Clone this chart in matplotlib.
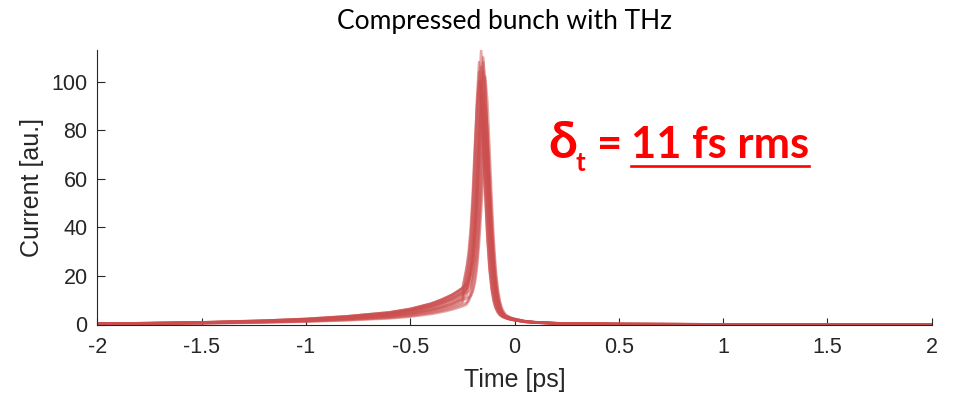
import matplotlib
matplotlib.use("Agg")
import matplotlib.pyplot as plt
from matplotlib.lines import Line2D

# ---------------- data ----------------
time_ps = [-2.0, -1.5, -1.2, -1.0, -0.8, -0.6, -0.5, -0.4, -0.35, -0.3, -0.27, -0.25,
           -0.23, -0.22, -0.21, -0.2, -0.19, -0.18, -0.17, -0.16, -0.15, -0.14, -0.13,
           -0.12, -0.11, -0.1, -0.09, -0.08, -0.07, -0.06, -0.05, -0.04, -0.02, 0.0,
           0.05, 0.1, 0.2, 0.3, 0.5, 1.0, 1.5, 2.0]

shot_01 = [0.3, 0.9, 1.6, 2.3, 3.4, 5.0, 6.4, 8.6, 10.2, 12.2, 13.8, 15.0,
           23.5, 30, 40, 55, 74, 90, 100, 90, 72, 52, 35,
           22.5, 14.5, 9.5, 6.6, 4.9, 3.8, 3.2, 2.8, 2.5, 2.0, 1.8,
           1.1, 0.78, 0.46, 0.3, 0.17, 0.07, 0.04, 0.02]
shot_02 = [0.27, 0.8, 1.45, 2.1, 3.1, 4.5, 5.8, 7.7, 9.2, 11.0, 12.4, 13.5,
           22.7, 28, 36.7, 50.8, 71.3, 92.9, 108, 97.2, 77.8, 56.2, 37.8,
           24.3, 15.7, 10.3, 7.1, 5.3, 4.1, 3.5, 3.0, 2.7, 2.2, 1.9,
           1.15, 0.8, 0.47, 0.3, 0.17, 0.07, 0.04, 0.02]
shot_03 = [0.22, 0.68, 1.2, 1.7, 2.55, 3.75, 4.8, 6.45, 7.65, 9.15, 10.35, 11.25,
           19.2, 23.7, 29.4, 38.4, 53.1, 74.6, 97.2, 113, 101.7, 81.4, 58.8,
           39.6, 25.4, 16.4, 10.7, 7.5, 5.5, 4.3, 3.6, 3.2, 2.6, 2.2,
           1.3, 0.9, 0.52, 0.34, 0.18, 0.08, 0.04, 0.02]
shot_04 = [0.18, 0.54, 0.96, 1.4, 2.05, 3.0, 3.85, 5.15, 6.1, 7.3, 8.3, 9.0,
           15.9, 19.6, 24.3, 34.2, 49.8, 70, 91.2, 106, 95.4, 76.3, 55.1,
           37.1, 23.9, 15.4, 10.1, 7.0, 5.2, 4.0, 3.4, 3.0, 2.4, 2.0,
           1.2, 0.8, 0.45, 0.3, 0.16, 0.07, 0.03, 0.02]
shot_05 = [0.29, 0.86, 1.52, 2.2, 3.2, 4.75, 6.1, 8.2, 9.7, 11.6, 13.1, 14.3,
           17.5, 21.5, 26.5, 34, 47, 66, 86, 100, 90, 72, 52,
           35, 22.5, 14.5, 9.5, 6.6, 4.9, 3.8, 3.2, 2.8, 2.3, 1.9,
           1.2, 0.85, 0.5, 0.33, 0.18, 0.08, 0.05, 0.03]
shot_06 = [0.21, 0.63, 1.12, 1.6, 2.4, 3.5, 4.5, 6.0, 7.1, 8.5, 9.7, 10.5,
           11.6, 17.0, 21, 26, 36.5, 51.7, 72.6, 94.6, 110, 99, 79.2,
           57.2, 38.5, 24.8, 16, 10.5, 7.3, 5.4, 4.2, 3.5, 2.8, 2.3,
           1.4, 0.95, 0.55, 0.35, 0.19, 0.08, 0.04, 0.02]
shot_07 = [0.26, 0.77, 1.36, 1.95, 2.9, 4.25, 5.45, 7.3, 8.7, 10.4, 11.7, 12.75,
           14.2, 17.3, 21, 26, 35.4, 48.9, 68.6, 89.4, 104, 93.6, 74.9,
           54.1, 36.4, 23.4, 15.1, 9.9, 6.9, 5.1, 4.0, 3.3, 2.6, 2.1,
           1.3, 0.9, 0.52, 0.34, 0.18, 0.08, 0.04, 0.02]
shot_08 = [0.3, 0.9, 1.6, 2.3, 3.4, 5.0, 6.4, 8.6, 10.2, 12.2, 13.8, 15.0,
           16.3, 17.5, 20.5, 25.5, 33, 44.7, 62.7, 81.7, 95, 85.5, 68.4,
           49.4, 33.3, 21.4, 13.8, 9.0, 6.3, 4.7, 3.6, 3.0, 2.4, 2.0,
           1.25, 0.88, 0.5, 0.33, 0.18, 0.08, 0.05, 0.03]
shot_09 = [0.24, 0.72, 1.28, 1.85, 2.7, 4.0, 5.1, 6.9, 8.2, 9.8, 11.0, 12.0,
           13.0, 13.6, 15.3, 18.9, 23.4, 30.6, 42.3, 59.4, 77.4, 90, 81,
           64.8, 46.8, 31.5, 20.3, 13.1, 8.6, 5.9, 4.4, 3.4, 2.6, 2.1,
           1.3, 0.92, 0.53, 0.35, 0.19, 0.08, 0.05, 0.03]
shot_10 = [0.17, 0.5, 0.88, 1.27, 1.87, 2.75, 3.5, 4.75, 5.6, 6.7, 7.6, 8.25,
           9.0, 9.6, 11.5, 14.5, 19, 26, 37.6, 52.8, 68.8, 80, 72,
           57.6, 41.6, 28, 18, 11.6, 7.6, 5.3, 3.9, 3.0, 2.3, 1.8,
           1.1, 0.78, 0.45, 0.3, 0.16, 0.07, 0.04, 0.02]
shot_11 = [0.2, 0.58, 1.04, 1.5, 2.2, 3.25, 4.15, 5.6, 6.6, 7.9, 9.0, 9.75,
           10.6, 11.1, 11.8, 13.5, 17, 23, 32.9, 46.2, 60.2, 70, 63,
           50.4, 36.4, 24.5, 15.8, 10.2, 6.7, 4.6, 3.4, 2.7, 2.1, 1.7,
           1.05, 0.75, 0.43, 0.28, 0.15, 0.07, 0.04, 0.02]
shot_12 = [0.21, 0.63, 1.12, 1.6, 2.4, 3.5, 4.5, 6.0, 7.1, 8.5, 9.7, 10.5,
           19.7, 24.6, 33.6, 48.9, 68.6, 89.4, 104, 93.6, 74.9, 54.1, 36.4,
           23.4, 15.1, 9.9, 6.9, 5.1, 4.0, 3.3, 2.9, 2.6, 2.1, 1.8,
           1.1, 0.75, 0.44, 0.29, 0.16, 0.07, 0.04, 0.02]
shot_13 = [0.3, 0.9, 1.6, 2.3, 3.4, 5.0, 6.4, 8.6, 10.2, 12.2, 13.8, 15.0,
           16.3, 18.4, 22.7, 28.1, 36.7, 50.8, 71.3, 92.9, 108, 97.2, 77.8,
           56.2, 37.8, 24.3, 15.7, 10.3, 7.1, 5.3, 4.1, 3.5, 2.8, 2.3,
           1.4, 0.95, 0.55, 0.36, 0.19, 0.08, 0.05, 0.03]
shot_14 = [0.26, 0.77, 1.36, 1.95, 2.9, 4.25, 5.45, 7.3, 8.7, 10.4, 11.7, 12.75,
           14.5, 18, 22.5, 31.3, 43.2, 60.7, 79.1, 92, 82.8, 66.2, 47.8,
           32.2, 20.7, 13.3, 8.7, 6.1, 4.5, 3.6, 3.1, 2.7, 2.2, 1.8,
           1.15, 0.82, 0.48, 0.32, 0.17, 0.07, 0.04, 0.02]
shot_15 = [0.27, 0.8, 1.45, 2.1, 3.1, 4.5, 5.8, 7.7, 9.2, 11.0, 12.4, 13.5,
           14.7, 15.5, 17.3, 21.4, 26.5, 34.7, 47.9, 67.3, 87.7, 102, 91.8,
           73.4, 53, 35.7, 23, 14.8, 9.7, 6.7, 5.0, 3.9, 2.9, 2.3,
           1.4, 1.0, 0.57, 0.37, 0.2, 0.09, 0.05, 0.03]
shot_16 = [0.15, 0.45, 0.8, 1.15, 1.7, 2.5, 3.2, 4.3, 5.1, 6.1, 6.9, 7.5,
           8.2, 10.5, 13.5, 19, 28, 40, 56.1, 73.1, 85, 76.5, 61.2,
           44.2, 29.8, 19.1, 12.3, 8.1, 5.6, 4.2, 3.3, 2.8, 2.2, 1.8,
           1.1, 0.78, 0.45, 0.3, 0.16, 0.07, 0.04, 0.02]

shots = [shot_01, shot_02, shot_03, shot_04, shot_05, shot_06, shot_07, shot_08,
         shot_09, shot_10, shot_11, shot_12, shot_13, shot_14, shot_15, shot_16]

x_ticks = [-2, -1.5, -1, -0.5, 0, 0.5, 1, 1.5, 2]
x_tick_labels = ["-2", "-1.5", "-1", "-0.5", "0", "0.5", "1", "1.5", "2"]
y_ticks = [0, 20, 40, 60, 80, 100]
y_tick_labels = ["0", "20", "40", "60", "80", "100"]

title_text = "Compressed bunch with THz"
x_label = "Time [ps]"
y_label = "Current [au.]"

# ---------------- figure ----------------
W, H = 960, 394
fig = plt.figure(figsize=(W / 100, H / 100), dpi=100)
ax = fig.add_axes([97.3 / W, (H - 324.5) / H, 834.4 / W, 274.5 / H])

line_color = "#CC4E4E"
for s in shots:
    ax.plot(time_ps, s, color=line_color, alpha=0.5, lw=1.8,
            solid_joinstyle="round", solid_capstyle="round")

ax.set_xlim(-2, 2)
ax.set_ylim(0, max(max(s) for s in shots))

axis_col = "#262626"
for side in ("top", "right"):
    ax.spines[side].set_visible(False)
for side in ("left", "bottom"):
    ax.spines[side].set_color(axis_col)
    ax.spines[side].set_linewidth(0.8)

tick_font = {"family": "Liberation Sans", "size": 15.5}
ax.set_xticks(x_ticks)
ax.set_xticklabels(x_tick_labels, fontdict=tick_font, color=axis_col)
ax.set_yticks(y_ticks)
ax.set_yticklabels(y_tick_labels, fontdict=tick_font, color=axis_col)
ax.tick_params(axis="both", direction="in", length=5.4, width=0.8, colors=axis_col)
ax.tick_params(axis="x", pad=9)
ax.tick_params(axis="y", pad=7)

ax.set_xlabel(x_label, family="Liberation Sans", fontsize=18, color=axis_col)
ax.set_ylabel(y_label, family="Liberation Sans", fontsize=18, color=axis_col)
ax.xaxis.set_label_coords(0.5, -0.16)
ax.yaxis.set_label_coords(-0.064, 0.5)

renderer = fig.canvas.get_renderer()


def fit_text(x_px, y_px, s, width_px, **kw):
    t = fig.text(x_px / W, 1 - y_px / H, s, **kw)
    w = t.get_window_extent(renderer).width
    t.set_fontsize(t.get_fontsize() * width_px / w)
    return t


# title
fit_text(505, 22, title_text, 336, family="Lato", fontsize=16,
         ha="center", va="center", color="black")

# red annotation
red = "#FF0000"
main = fit_text(631, 158.3, "11 fs rms", 178, family="Lato", weight="bold",
                fontsize=30, ha="left", va="baseline", color=red)
fs_main = main.get_fontsize()
fit_text(548, 158.3, "δ", 29, family=["Lato", "DejaVu Sans"], weight="bold",
         fontsize=fs_main, ha="left", va="baseline", color=red)
fig.text(576 / W, 1 - 171 / H, "t", family="Lato", weight="bold",
         fontsize=fs_main * 0.6, ha="left", va="baseline", color=red)
fig.text(597 / W, 1 - 158.3 / H, "=", family="Lato", weight="bold",
         fontsize=fs_main, ha="left", va="baseline", color=red)
ext = main.get_window_extent(renderer)
uy = 1 - 166 / H
fig.add_artist(Line2D([ext.x0 / W, ext.x1 / W], [uy, uy], color=red, lw=1.9,
                      transform=fig.transFigure))

fig.savefig("out.png", dpi=100)
